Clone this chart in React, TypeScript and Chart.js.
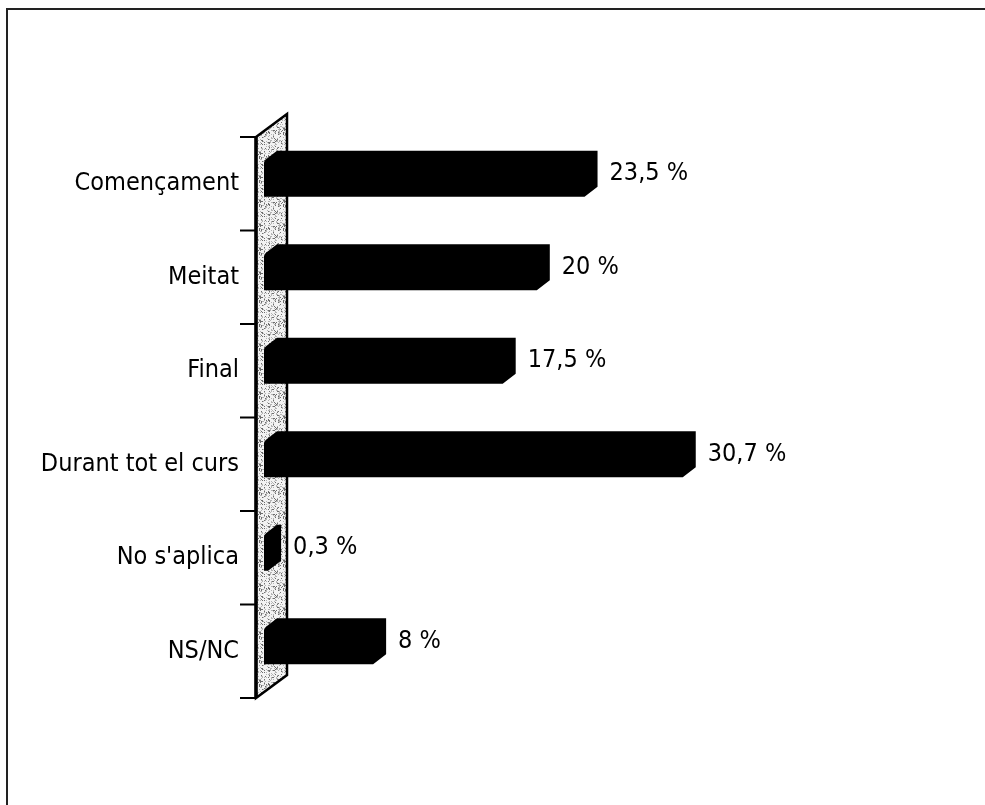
import React, { useEffect, useRef } from "react";
import { Chart, registerables } from "chart.js";

Chart.register(...registerables);

const categories = ["Començament", "Meitat", "Final", "Durant tot el curs", "No s'aplica", "NS/NC"];
const values = [23.5, 20, 17.5, 30.7, 0.3, 8];
const valueLabels = ["23,5 %", "20 %", "17,5 %", "30,7 %", "0,3 %", "8 %"];

const FONT_FAMILY = "'DejaVu Sans Condensed', 'DejaVu Sans', sans-serif";
const FONT_SIZE = 25;

const BAR_DX = 13;
const BAR_DY = 10;
const BAR_SHIFT = 5;
const WALL_OFFSET = 8;
const WALL_DX = 31;
const WALL_DY = 23;
const TICK_LEN = 16;

function makePattern(ctx: CanvasRenderingContext2D) {
  const size = 24;
  const c = document.createElement("canvas");
  c.width = size;
  c.height = size;
  const p = c.getContext("2d")!;
  p.fillStyle = "#f3f3f3";
  p.fillRect(0, 0, size, size);
  for (let yy = 0; yy < size; yy++) {
    for (let xx = 0; xx < size; xx++) {
      let h = (xx * 374761393 + yy * 668265263) | 0;
      h = Math.imul(h ^ (h >>> 13), 1274126177);
      h = (h ^ (h >>> 16)) >>> 0;
      const r = h % 100;
      if (r < 12) {
        p.fillStyle = "#6e6e6e";
        p.fillRect(xx, yy, 1, 1);
      } else if (r < 30) {
        p.fillStyle = "#b4b4b4";
        p.fillRect(xx, yy, 1, 1);
      }
    }
  }
  return ctx.createPattern(c, "repeat");
}

const threeDPlugin = {
  id: "threeD",
  beforeDraw(chart: any) {
    const ctx = chart.ctx as CanvasRenderingContext2D;
    ctx.save();
    ctx.fillStyle = "#ffffff";
    ctx.fillRect(0, 0, chart.width, chart.height);
    ctx.strokeStyle = "#222";
    ctx.lineWidth = 2;
    ctx.beginPath();
    ctx.moveTo(7, chart.height);
    ctx.lineTo(7, 9);
    ctx.lineTo(chart.width, 9);
    ctx.stroke();
    ctx.restore();
  },
  beforeDatasetsDraw(chart: any) {
    const ctx = chart.ctx as CanvasRenderingContext2D;
    const ca = chart.chartArea;
    const y = chart.scales.y;
    const fx = ca.left - WALL_OFFSET;
    const bx = fx + WALL_DX;
    ctx.save();
    ctx.beginPath();
    ctx.moveTo(fx, ca.top);
    ctx.lineTo(bx, ca.top - WALL_DY);
    ctx.lineTo(bx, ca.bottom - WALL_DY);
    ctx.lineTo(fx, ca.bottom);
    ctx.closePath();
    const pat = makePattern(ctx);
    ctx.fillStyle = pat || "#d0d0d0";
    ctx.fill();
    ctx.strokeStyle = "#000";
    ctx.lineWidth = 2.5;
    ctx.lineJoin = "miter";
    ctx.stroke();
    // thicker front edge
    ctx.lineWidth = 3.5;
    ctx.beginPath();
    ctx.moveTo(fx, ca.top);
    ctx.lineTo(fx, ca.bottom);
    ctx.stroke();
    // ticks at category boundaries
    const n = categories.length;
    const step = n > 1 ? y.getPixelForValue(1) - y.getPixelForValue(0) : ca.bottom - ca.top;
    ctx.lineWidth = 2;
    for (let i = 0; i <= n; i++) {
      const yy = y.getPixelForValue(0) - step / 2 + i * step;
      ctx.beginPath();
      ctx.moveTo(fx - TICK_LEN, yy);
      ctx.lineTo(fx, yy);
      ctx.stroke();
    }
    ctx.restore();
  },
  afterDatasetsDraw(chart: any) {
    const ctx = chart.ctx as CanvasRenderingContext2D;
    const meta = chart.getDatasetMeta(0);
    ctx.save();
    meta.data.forEach((bar: any, i: number) => {
      const { x, y, base, height } = bar.getProps(["x", "y", "base", "height"], true);
      const T = y - height / 2 - BAR_SHIFT;
      const B = y + height / 2 - BAR_SHIFT;
      const L = base;
      const R = x;
      ctx.beginPath();
      ctx.moveTo(L, T + 2);
      ctx.quadraticCurveTo(L, T, L + 2, T - 1.5);
      ctx.lineTo(L + BAR_DX, T - BAR_DY);
      ctx.lineTo(R + BAR_DX, T - BAR_DY);
      ctx.lineTo(R + BAR_DX, B - BAR_DY);
      ctx.lineTo(R, B);
      ctx.lineTo(L, B);
      ctx.closePath();
      ctx.fillStyle = "#000";
      ctx.fill();
      ctx.font = `${FONT_SIZE}px ${FONT_FAMILY}`;
      ctx.textAlign = "left";
      ctx.textBaseline = "middle";
      ctx.fillText(valueLabels[i], R + BAR_DX + 12, (T - BAR_DY + B) / 2);
    });
    ctx.restore();
  },
};

export default function App() {
  const ref = useRef<HTMLCanvasElement | null>(null);
  useEffect(() => {
    if (!ref.current) return;
    const chart = new Chart(ref.current, {
      type: "bar",
      data: {
        labels: categories,
        datasets: [
          {
            data: values,
            backgroundColor: "rgba(0,0,0,0)",
            borderWidth: 0,
            barPercentage: 0.385,
            categoryPercentage: 1,
          },
        ],
      },
      options: {
        indexAxis: "y",
        animation: false,
        responsive: true,
        maintainAspectRatio: false,
        layout: { padding: { top: 137, bottom: 107, left: 0, right: 39 } },
        plugins: { legend: { display: false }, tooltip: { enabled: false } },
        scales: {
          x: { display: false, min: 0, max: 50 },
          y: {
            afterFit: (scale: any) => {
              scale.width = 264;
            },
            grid: { display: false, drawTicks: false },
            border: { display: false },
            ticks: {
              color: "#000",
              padding: 25,
              font: { family: FONT_FAMILY, size: FONT_SIZE },
            },
          },
        },
      },
      plugins: [threeDPlugin],
    });
    return () => chart.destroy();
  }, []);
  return (
    <div style={{ position: "fixed", left: 0, top: 0, width: 985, height: 805, background: "#fff" }}>
      <canvas ref={ref} />
    </div>
  );
}
